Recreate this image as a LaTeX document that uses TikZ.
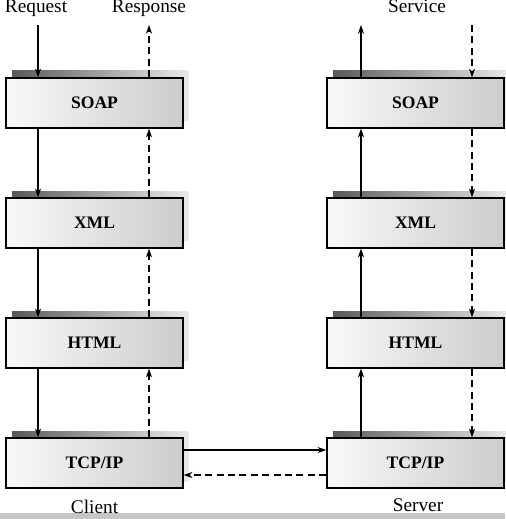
\documentclass[tikz,border=0pt]{standalone}
\usepackage{fontspec}
\setmainfont{Liberation Serif}
\usetikzlibrary{arrows.meta,shadows}

\begin{document}
\begin{tikzpicture}[
  x=0.02cm, y=-0.02cm,
  layer/.style={draw, line width=0.8pt, minimum width=3.54cm, minimum height=1cm, inner sep=0pt,
    left color=gray!5, right color=gray!40, font=\bfseries\fontsize{10}{12}\selectfont,
    general shadow={shadow xshift=0.12cm, shadow yshift=0.14cm, left color=black!65, right color=black!8}},
  arr/.style={-{Stealth[length=5pt,width=3.5pt]}, line width=0.6pt},
  back/.style={arr, dash pattern=on 4pt off 2.5pt},
  lbl/.style={font=\fontsize{11}{13}\selectfont}
]
\useasboundingbox (0,0) rectangle (505,519);
\fill[gray!45] (0,513) rectangle (505,519);

% client stack
\node[layer] (soapC) at (94.5,103) {SOAP};
\node[layer] (xmlC)  at (94.5,223) {XML};
\node[layer] (htmlC) at (94.5,343) {HTML};
\node[layer] (tcpC)  at (94.5,463) {TCP/IP};

% server stack
\node[layer] (soapS) at (415.5,103) {SOAP};
\node[layer] (xmlS)  at (415.5,223) {XML};
\node[layer] (htmlS) at (415.5,343) {HTML};
\node[layer] (tcpS)  at (415.5,463) {TCP/IP};

\coordinate (req) at (38,25);
\coordinate (resp) at (149,25);
\coordinate (srvUp) at (361,25);
\coordinate (srvDown) at (472,25);

\node[lbl, anchor=base] (reqT) at (36,13) {Request};
\node[lbl, anchor=base] (respT) at (149,13) {Response};
\node[lbl, anchor=base] (servT) at (417,13) {Service};
\node[lbl] (client) at (94.5,507) {Client};
\node[lbl] (server) at (418,505) {Server};

% client side
\draw[arr] (req) -- (req |- soapC.north);
\draw[arr] (req |- soapC.south) -- (req |- xmlC.north);
\draw[arr] (req |- xmlC.south) -- (req |- htmlC.north);
\draw[arr] (req |- htmlC.south) -- (req |- tcpC.north);
\draw[back] (resp |- tcpC.north) -- (resp |- htmlC.south);
\draw[back] (resp |- htmlC.north) -- (resp |- xmlC.south);
\draw[back] (resp |- xmlC.north) -- (resp |- soapC.south);
\draw[back] (resp |- soapC.north) -- (resp);

% server side
\draw[arr] (srvUp |- tcpS.north) -- (srvUp |- htmlS.south);
\draw[arr] (srvUp |- htmlS.north) -- (srvUp |- xmlS.south);
\draw[arr] (srvUp |- xmlS.north) -- (srvUp |- soapS.south);
\draw[arr] (srvUp |- soapS.north) -- (srvUp);
\draw[back] (srvDown) -- (srvDown |- soapS.north);
\draw[back] (srvDown |- soapS.south) -- (srvDown |- xmlS.north);
\draw[back] (srvDown |- xmlS.south) -- (srvDown |- htmlS.north);
\draw[back] (srvDown |- htmlS.south) -- (srvDown |- tcpS.north);

% network
\draw[arr] ([yshift=0.26cm]tcpC.east) -- ([yshift=0.26cm]tcpS.west);
\draw[back] ([yshift=-0.24cm]tcpS.west) -- ([yshift=-0.24cm]tcpC.east);
\end{tikzpicture}
\end{document}
